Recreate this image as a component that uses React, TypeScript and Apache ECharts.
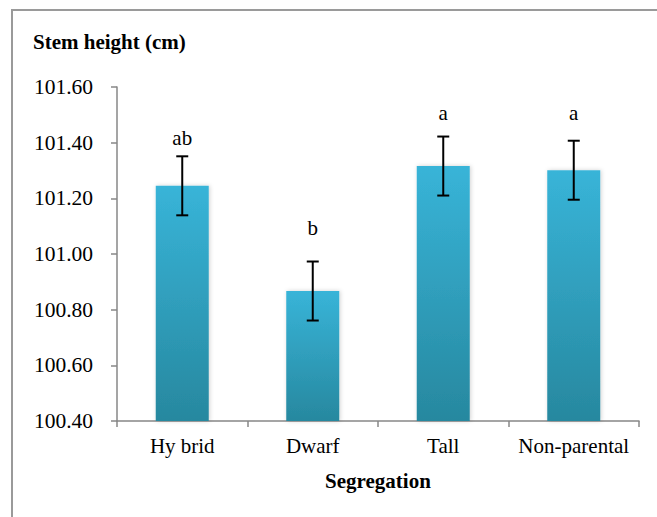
import React, { useEffect, useRef } from "react";
import * as echarts from "echarts";

const categories = ["Hy brid", "Dwarf", "Tall", "Non-parental"];
const means = [101.245, 100.867, 101.316, 101.301];
const errors = [0.106, 0.106, 0.106, 0.106];
const letters = ["ab", "b", "a", "a"];
const letterAt = [101.38, 101.055, 101.47, 101.47];
const yTicks = { min: 100.4, max: 101.6, interval: 0.2 };

const FONT = "'Liberation Serif', 'Times New Roman', serif";

export default function App() {
  const ref = useRef<HTMLDivElement>(null);
  useEffect(() => {
    document.body.style.margin = "0";
    const chart = echarts.init(ref.current!, null, { renderer: "svg" });
    chart.setOption({
      animation: false,
      backgroundColor: "#fff",
      graphic: [
        {
          type: "rect",
          shape: { x: 12, y: 10, width: 700, height: 600 },
          style: { fill: "none", stroke: "#9a9a9a", lineWidth: 2 },
          silent: true,
        },
        {
          type: "text",
          left: 33,
          top: 31,
          style: {
            text: "Stem height (cm)",
            font: `bold 21px ${FONT}`,
            fill: "#000",
          },
        },
      ],
      grid: { left: 117, right: 18, top: 87, bottom: 96 },
      xAxis: {
        type: "category",
        data: categories,
        name: "Segregation",
        nameLocation: "middle",
        nameGap: 49,
        nameTextStyle: { fontFamily: FONT, fontWeight: "bold", fontSize: 21, color: "#000" },
        axisLine: { lineStyle: { color: "#878787", width: 1.5 } },
        axisTick: { show: true, length: 6, lineStyle: { color: "#878787", width: 1.5 } },
        axisLabel: { fontFamily: FONT, fontSize: 21, color: "#000", margin: 14, interval: 0 },
      },
      yAxis: {
        type: "value",
        min: yTicks.min,
        max: yTicks.max,
        interval: yTicks.interval,
        splitLine: { show: false },
        axisLine: { show: true, lineStyle: { color: "#878787", width: 1.5 } },
        axisTick: { show: true, length: 6, lineStyle: { color: "#878787", width: 1.5 } },
        axisLabel: {
          fontFamily: FONT,
          fontSize: 21.5,
          color: "#000",
          margin: 24,
          formatter: (v: number) => v.toFixed(2),
        },
      },
      series: [
        {
          type: "bar",
          data: means,
          barWidth: 53,
          itemStyle: {
            color: new echarts.graphic.LinearGradient(0, 0, 0, 1, [
              { offset: 0, color: "#38b4d8" },
              { offset: 1, color: "#27889f" },
            ]),
            shadowColor: "rgba(0,0,0,0.18)",
            shadowBlur: 4,
            shadowOffsetX: 1,
          },
        },
        {
          type: "custom",
          data: means.map((m, i) => [i, m - errors[i], m + errors[i], letterAt[i]]),
          renderItem: (params: any, api: any) => {
            const i = api.value(0);
            const lo = api.coord([i, api.value(1)]);
            const hi = api.coord([i, api.value(2)]);
            const lp = api.coord([i, api.value(3)]);
            const x = lo[0];
            const cap = 6;
            const st = { stroke: "#000", lineWidth: 2 };
            return {
              type: "group",
              children: [
                { type: "line", shape: { x1: x, y1: lo[1], x2: x, y2: hi[1] }, style: st },
                { type: "line", shape: { x1: x - cap, y1: lo[1], x2: x + cap, y2: lo[1] }, style: st },
                { type: "line", shape: { x1: x - cap, y1: hi[1], x2: x + cap, y2: hi[1] }, style: st },
                {
                  type: "text",
                  x,
                  y: lp[1],
                  style: {
                    text: letters[params.dataIndex],
                    font: `21px ${FONT}`,
                    fill: "#000",
                    align: "center",
                    verticalAlign: "bottom",
                  },
                },
              ],
            };
          },
          z: 5,
        },
      ],
    });
    return () => chart.dispose();
  }, []);
  return <div ref={ref} style={{ position: "absolute", left: 0, top: 0, width: 657, height: 517 }} />;
}
